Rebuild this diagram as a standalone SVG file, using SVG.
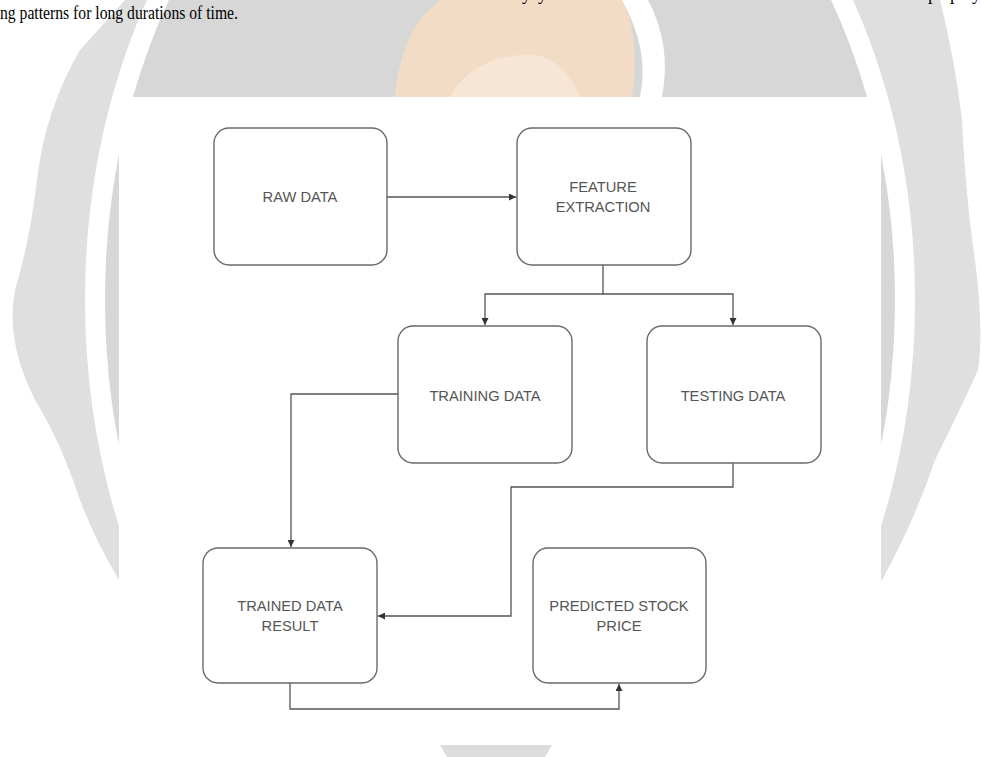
<svg xmlns="http://www.w3.org/2000/svg" width="982" height="757" viewBox="0 0 982 757">
<style>
.box{fill:#ffffff;stroke:#6a6a6a;stroke-width:1.4}
.lbl{font-family:"Liberation Sans",Arial,sans-serif;font-size:14.7px;fill:#555555;text-anchor:middle}
.edge{fill:none;stroke:#555555;stroke-width:1.3}
.body{font-family:"Liberation Serif","Times New Roman",serif;font-size:18px;fill:#000000}
</style>
<defs>
<marker id="ah" viewBox="0 0 10 10" refX="10" refY="5" markerWidth="7" markerHeight="7" markerUnits="userSpaceOnUse" orient="auto">
<path d="M0,0 L10,5 L0,10 Z" fill="#333333"/>
</marker>
<clipPath id="badgeclip">
<path d="M125,0 L940,0 Q955,60 962,120 Q966,200 975,260 Q984,330 978,370 Q960,410 935,460 Q915,520 882,580 L119,580 Q95,540 80,500 Q60,440 35,400 Q5,340 15,290 Q30,240 37,180 Q45,110 80,50 Z"/>
</clipPath>
</defs>
<rect x="0" y="0" width="982" height="757" fill="#ffffff"/>
<g id="watermark">
<path d="M125,0 L940,0 Q955,60 962,120 Q966,200 975,260 Q984,330 978,370 Q960,410 935,460 Q915,520 882,580 L119,580 Q95,540 80,500 Q60,440 35,400 Q5,340 15,290 Q30,240 37,180 Q45,110 80,50 Z" fill="#dfdfdf"/>
<ellipse cx="500" cy="300" rx="405" ry="560" fill="#d7d7d7" stroke="#ffffff" stroke-width="20" clip-path="url(#badgeclip)"/>
<path d="M395,97 Q400,30 440,0 L625,0 Q640,50 632,97 Z" fill="#f3dcc6"/>
<path d="M450,97 Q470,60 520,55 Q560,50 580,97 Z" fill="#f7e6d6"/>
<path d="M622,0 Q650,50 640,97 L662,97 Q672,45 648,0 Z" fill="#ffffff"/>
<path d="M440,745 Q495,738 552,745 L545,757 L447,757 Z" fill="#dcdcdc"/>
</g>
<g id="page-text">
<text class="body" x="0" y="19" textLength="238" lengthAdjust="spacingAndGlyphs">ng patterns for long durations of time.</text>
<text class="body" x="522" y="0">y</text>
<text class="body" x="538" y="0">y</text>
<text class="body" x="928" y="0">p</text>
<text class="body" x="950" y="0">p</text>
<text class="body" x="972" y="0">y</text>
</g>
<rect id="panel" x="119" y="97" width="762" height="648" fill="#ffffff"/>
<g id="connectors">
<path class="edge" d="M387,197 H516" marker-end="url(#ah)"/>
<path class="edge" d="M603,265 V294 H485 V325" marker-end="url(#ah)"/>
<path class="edge" d="M603,294 H733 V325" marker-end="url(#ah)"/>
<path class="edge" d="M398,394 H291 V547" marker-end="url(#ah)"/>
<path class="edge" d="M733,463 V487 H511 V616 H378" marker-end="url(#ah)"/>
<path class="edge" d="M290,683 V709 H619 V684" marker-end="url(#ah)"/>
</g>
<g id="raw-data">
<rect class="box" x="214" y="128" width="173" height="137" rx="15"/>
<text class="lbl" x="300" y="202">RAW DATA</text>
</g>
<g id="feature-extraction">
<rect class="box" x="517" y="128" width="174" height="137" rx="15"/>
<text class="lbl" x="603" y="192">FEATURE</text>
<text class="lbl" x="603" y="212">EXTRACTION</text>
</g>
<g id="training-data">
<rect class="box" x="398" y="326" width="174" height="137" rx="15"/>
<text class="lbl" x="485" y="401">TRAINING DATA</text>
</g>
<g id="testing-data">
<rect class="box" x="647" y="326" width="174" height="137" rx="15"/>
<text class="lbl" x="733" y="401">TESTING DATA</text>
</g>
<g id="trained-data-result">
<rect class="box" x="203" y="548" width="174" height="135" rx="15"/>
<text class="lbl" x="290" y="611">TRAINED DATA</text>
<text class="lbl" x="290" y="631">RESULT</text>
</g>
<g id="predicted-stock-price">
<rect class="box" x="533" y="548" width="173" height="135" rx="15"/>
<text class="lbl" x="619" y="611">PREDICTED STOCK</text>
<text class="lbl" x="619" y="631">PRICE</text>
</g>
</svg>
